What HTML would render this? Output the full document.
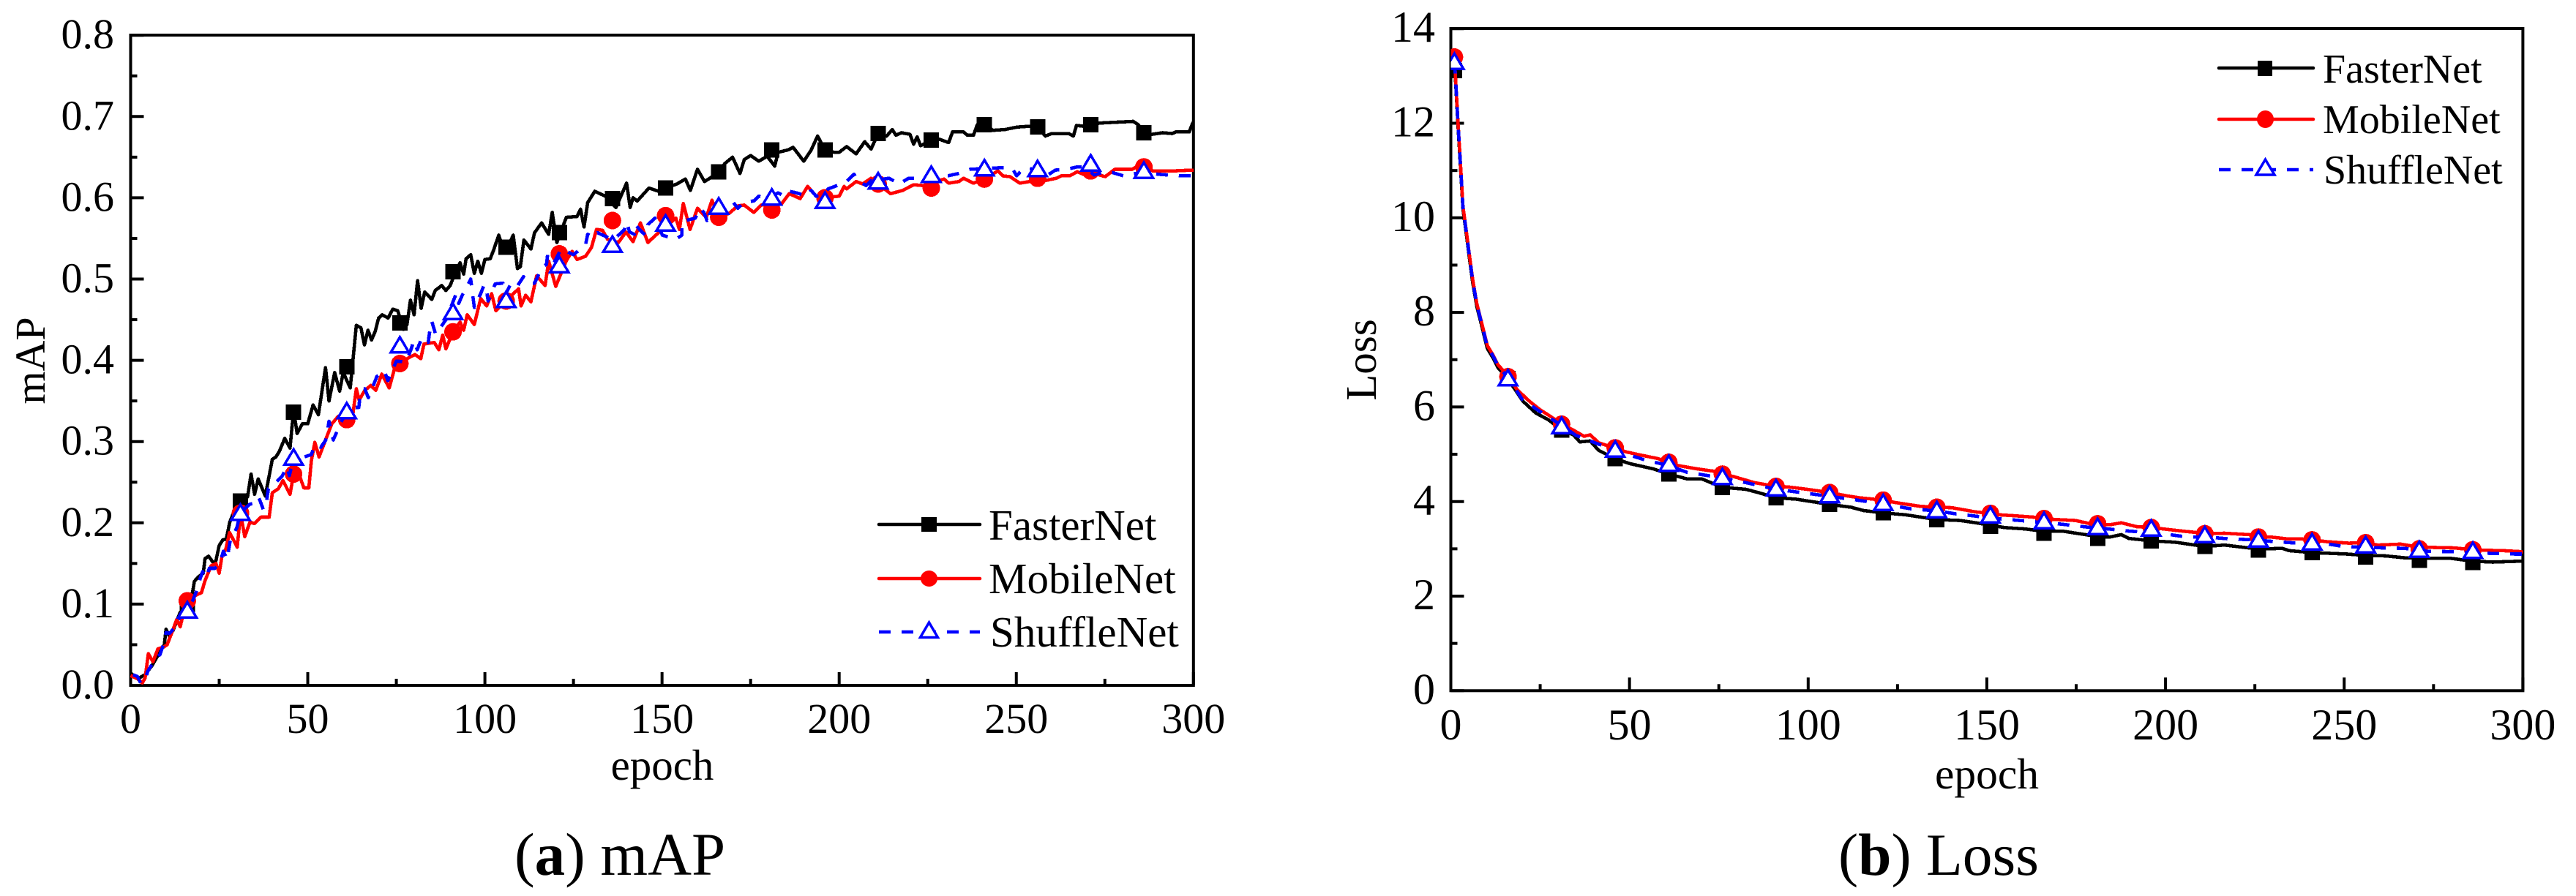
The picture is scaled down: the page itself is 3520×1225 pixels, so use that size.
<!DOCTYPE html>
<html lang="en">
<head>
<meta charset="utf-8">
<title>mAP and Loss training curves</title>
<style>
html,body{margin:0;padding:0;background:#fff;}
svg{display:block;font-family:"Liberation Serif",serif;fill:#000;}
</style>
</head>
<body>
<svg id="figure" xmlns="http://www.w3.org/2000/svg" width="3520" height="1225" viewBox="0 0 3520 1225">
  <rect x="0" y="0" width="3520" height="1225" fill="#fff"/>
  <defs>
    <clipPath id="clip-loss"><rect x="1982.5" y="39" width="1465" height="906"/></clipPath>
  </defs>
  <g id="panel-map">
    <rect x="178.5" y="48" width="1452.3" height="889" fill="none" stroke="#000" stroke-width="4"/>
    <g id="map-ticks"></g>
    <g id="map-series" shape-rendering="crispEdges"></g>
    <text x="905" y="1066" font-size="59" text-anchor="middle">epoch</text>
    <text transform="translate(61 493) rotate(-90)" font-size="58" text-anchor="middle">mAP</text>
    <g>
      <line x1="1201" y1="717" x2="1339" y2="717" stroke="#000" stroke-width="4.5" stroke-linecap="round"/>
      <rect x="1259" y="707" width="21" height="20" fill="#000"/>
      <text x="1351" y="738" font-size="59">FasterNet</text>
      <line x1="1201" y1="791" x2="1339" y2="791" stroke="#f00" stroke-width="4.5" stroke-linecap="round"/>
      <ellipse cx="1269.5" cy="791" rx="11.5" ry="11" fill="#f00"/>
      <text x="1351" y="811" font-size="59">MobileNet</text>
      <line x1="1201" y1="864" x2="1339" y2="864" stroke="#00f" stroke-width="4.5" stroke-dasharray="16 15"/>
      <polygon points="1269.5,851 1257.5,871.5 1281.5,871.5" fill="#fff" stroke="#00f" stroke-width="3.5"/>
      <text x="1353" y="884" font-size="59">ShuffleNet</text>
    </g>
    <text x="703" y="1196" font-size="83">(<tspan font-weight="bold">a</tspan>) mAP</text>
  </g>
  <g id="panel-loss">
    <rect x="1982.5" y="39" width="1464.9" height="905.3" fill="none" stroke="#000" stroke-width="4"/>
    <g id="loss-ticks"></g>
    <g id="loss-series" clip-path="url(#clip-loss)" shape-rendering="crispEdges"></g>
    <text x="2715" y="1078" font-size="59.5" text-anchor="middle">epoch</text>
    <text transform="translate(1880 492) rotate(-90)" font-size="59" text-anchor="middle">Loss</text>
    <g>
      <line x1="3032" y1="93" x2="3161" y2="93" stroke="#000" stroke-width="4.5" stroke-linecap="round"/>
      <rect x="3085" y="83" width="20" height="21" fill="#000"/>
      <text x="3174" y="113" font-size="56">FasterNet</text>
      <line x1="3032" y1="163" x2="3161" y2="163" stroke="#f00" stroke-width="4.5" stroke-linecap="round"/>
      <ellipse cx="3095.5" cy="163" rx="11.5" ry="12" fill="#f00"/>
      <text x="3174" y="182" font-size="56">MobileNet</text>
      <line x1="3032" y1="232" x2="3161" y2="232" stroke="#00f" stroke-width="4.5" stroke-dasharray="16 15"/>
      <polygon points="3095.5,218 3083,239 3108,239" fill="#fff" stroke="#00f" stroke-width="3.5"/>
      <text x="3175" y="251" font-size="56">ShuffleNet</text>
    </g>
    <text x="2512" y="1196" font-size="81.5">(<tspan font-weight="bold">b</tspan>) Loss</text>
  </g>
</svg>
<script>
// ---- shared axis data ----
const xMajorTicks = [0, 50, 100, 150, 200, 250, 300];
const xMinorTicks = [25, 75, 125, 175, 225, 275];
const xTickLabels = ['0', '50', '100', '150', '200', '250', '300'];

// ---- mAP panel ----
const mapYMajorTicks = [0, 0.1, 0.2, 0.3, 0.4, 0.5, 0.6, 0.7, 0.8];
const mapYMinorTicks = [0.05, 0.15, 0.25, 0.35, 0.45, 0.55, 0.65, 0.75];
const mapYTickLabels = ['0.0', '0.1', '0.2', '0.3', '0.4', '0.5', '0.6', '0.7', '0.8'];
const mapMarkerEpochs = [16, 31, 46, 61, 76, 91, 106, 121, 136, 151, 166, 181, 196, 211, 226, 241, 256, 271, 286];

const mapFasterEpochs = [0,2,4,6,8,9.5,10,11,12,14,16,17.5,18,19,20.5,21,22,23.5,24,25,26,27,28,29,31,33,34,35,36,38,40,41,42,43.5,45,46,47,48.5,50,51.5,53,55,56,57.6,59,60,62,63.7,65,66,67,68,69,70,71,72.7,74,75.4,77,78,79,80,81,82,83,85,86,87.8,89,90.2,91,93,94,94.7,96,97,98,99,100,101.5,102.5,103.9,105,106.5,108,109.2,110,111,113,114,116,118,119,120.3,123,126,127,128,129,131,134,137,140,141,141.8,143,146.3,149,151,154.2,156.6,158,160,162,164.2,166,167.7,169.9,172,173.2,175,177.3,179.7,181.8,182.8,185.6,187,190,192,193.9,196,198.6,200,202.1,204.8,207.2,209,211,213.4,215,216,217.6,220,221,222,223,226,228.3,230.9,232,235.1,236.2,237.9,239,241,243.4,246.8,250.3,253.7,256,258.2,260,264.8,266.1,267,268.9,271,273.7,278.2,283,284.4,286,288.2,291.3,294,295,298.8,299.7,300];
const mapFasterValues = [.015,.008,.013,.024,.039,.05,.069,.06,.068,.09,.099,.115,.128,.133,.138,.156,.159,.15,.152,.172,.179,.18,.201,.212,.227,.232,.26,.235,.254,.233,.278,.281,.288,.304,.292,.339,.31,.322,.322,.345,.333,.391,.35,.385,.362,.385,.366,.443,.44,.419,.437,.425,.435,.452,.456,.452,.463,.461,.438,.444,.474,.456,.498,.464,.484,.475,.486,.492,.486,.492,.501,.52,.506,.525,.53,.507,.522,.507,.524,.525,.536,.554,.54,.54,.554,.513,.515,.548,.537,.557,.569,.555,.582,.545,.576,.577,.586,.564,.594,.608,.602,.588,.618,.588,.6,.596,.612,.608,.612,.617,.623,.609,.635,.62,.626,.632,.642,.65,.63,.647,.652,.645,.651,.639,.656,.659,.662,.645,.658,.676,.659,.656,.656,.663,.654,.669,.66,.679,.676,.684,.677,.68,.678,.666,.675,.664,.671,.672,.668,.681,.681,.677,.677,.69,.69,.683,.684,.687,.688,.687,.676,.679,.679,.676,.689,.688,.69,.692,.693,.694,.69,.68,.678,.68,.679,.681,.681,.691,.693];
const mapFasterMarkers = [.099,.227,.336,.392,.446,.509,.539,.557,.599,.612,.632,.659,.659,.679,.671,.69,.687,.69,.68];

const mapMobileEpochs = [0,1,2,3.3,4.1,5,6.3,7.7,9.3,10.3,12,13,14,14.8,16,18,20,21,22.7,24.1,25,25.8,26.9,27.9,29.3,30.1,31,32.2,33.7,34.9,36.8,39.1,40,41.7,43,45,46,47.2,48.9,50.3,51,52,53.2,55.1,56.8,58.6,60,61,62.3,63.7,64.5,66.1,67.8,69.2,70.9,73,74.7,76,78.8,80.3,81.9,82.8,85.7,87,88.1,89,91,93,94,95,97,98.8,100.5,101.9,103.1,105.9,109.5,110.2,111.5,113,114.6,117,118,120,122.9,124.6,126,128.4,130.1,131.5,133.2,134.6,137.7,139.8,141.8,143.9,146,149,153.9,154.9,156,157.9,160,162.5,164.1,166,169,171.4,173.2,175.9,178,183.8,185.9,189,191.1,193.5,196,200,201.4,202.1,204.8,206.6,209,211,214.5,217.9,221,223.8,229.6,230.9,233.8,235.1,237.9,241,244.8,246.2,248.2,251,253.7,257.9,261.3,262.7,265.1,267.2,268.9,271,275.1,277.8,282.7,285.4,288.5,294.4,299.5,300];
const mapMobileValues = [.012,.01,.008,.003,.009,.039,.029,.045,.047,.05,.069,.081,.072,.087,.104,.11,.114,.129,.147,.15,.138,.159,.168,.188,.177,.17,.212,.183,.201,.199,.207,.207,.237,.242,.252,.235,.26,.264,.243,.243,.276,.299,.281,.303,.322,.331,.322,.327,.32,.365,.351,.363,.369,.363,.383,.366,.393,.396,.404,.407,.402,.42,.422,.413,.431,.414,.435,.447,.437,.456,.444,.476,.467,.482,.461,.473,.488,.467,.48,.472,.504,.492,.522,.491,.522,.534,.524,.528,.539,.561,.56,.549,.545,.558,.546,.569,.545,.557,.575,.561,.593,.561,.587,.576,.597,.576,.581,.59,.591,.582,.591,.593,.605,.599,.614,.602,.6,.602,.614,.611,.62,.617,.624,.617,.605,.609,.616,.615,.623,.618,.62,.624,.618,.623,.633,.627,.626,.618,.62,.621,.624,.627,.627,.632,.629,.631,.626,.635,.635,.642,.633,.633,.634,.634];
const mapMobileMarkers = [.104,.212,.26,.327,.396,.435,.473,.531,.572,.578,.576,.585,.6,.617,.612,.623,.624,.633,.638];

const mapShuffleEpochs = [0.7,1.9,2.8,4,4.8,6.5,8.3,9.3,10,11,12.4,13.4,16,17.6,18.6,19.6,20.3,21.3,22.2,23.8,25.1,26.2,27.2,28.2,30,31,33.7,35.5,36.2,37.5,38.4,38.9,40.6,42.7,44.1,44.8,46,48.2,49,51,52,53.7,55.1,56,57.2,59,61,62.3,64.4,64.7,66.1,67.1,68.5,69.5,71.6,72.6,73.7,75,77.8,79.2,79.9,80.9,81.4,82.3,84,84.5,85,86.1,87.4,89,91.9,92.6,93.6,94.7,96,96.4,97,98.8,99.8,100.5,100.9,101.9,102.9,105.1,105.7,107.4,109.1,110.9,112.2,114,115,116,117.4,117.7,119.5,121.5,125,128.4,129,130.8,131.8,134.3,136,138,139.4,140.1,140.8,142.2,142.5,143.6,145.3,146,148,150.1,153.9,155.6,155.6,156.6,159.4,160.8,161.8,162.7,165,168,170,171.4,173.2,175.9,177.3,180,182.8,184.5,185.9,188,190.7,192.1,193.5,195.5,196.9,200,202.1,204.2,205.4,207.6,209,214.1,216.9,219.6,223.4,228.6,230.7,233.8,236.9,241,245.8,248.9,250.1,252,256,258.2,261,264.1,267.2,269.2,272,274.7,277.2,280.2,283.7,286,289.9,293,296.4,299.5,300];
const mapShuffleValues = [.013,.011,.003,.005,.017,.029,.038,.051,.065,.064,.071,.081,.093,.105,.116,.131,.14,.132,.144,.144,.15,.165,.155,.18,.194,.213,.223,.224,.231,.216,.228,.242,.248,.257,.269,.258,.281,.27,.281,.284,.296,.293,.302,.325,.302,.32,.338,.342,.342,.354,.365,.354,.369,.38,.387,.375,.386,.399,.398,.414,.424,.413,.419,.428,.422,.438,.448,.432,.44,.45,.482,.47,.48,.488,.5,.486,.465,.482,.493,.485,.473,.483,.494,.495,.48,.495,.491,.503,.495,.495,.504,.514,.518,.53,.52,.537,.53,.542,.555,.551,.557,.552,.548,.555,.561,.57,.558,.555,.567,.561,.554,.567,.575,.554,.549,.554,.569,.572,.575,.587,.582,.572,.585,.593,.595,.587,.595,.596,.602,.6,.606,.602,.608,.606,.602,.609,.602,.603,.611,.616,.62,.629,.621,.615,.621,.624,.617,.624,.624,.627,.627,.63,.635,.636,.637,.636,.627,.636,.635,.626,.634,.635,.638,.638,.628,.632,.631,.627,.63,.632,.629,.628,.627,.627,.627];
const mapShuffleMarkers = [.093,.213,.281,.338,.419,.46,.475,.518,.543,.569,.59,.601,.597,.621,.629,.637,.636,.643,.634];

// ---- Loss panel ----
const lossYMajorTicks = [0, 2, 4, 6, 8, 10, 12, 14];
const lossYMinorTicks = [1, 3, 5, 7, 9, 11, 13];
const lossYTickLabels = ['0', '2', '4', '6', '8', '10', '12', '14'];
const lossMarkerEpochs = [1, 16, 31, 46, 61, 76, 91, 106, 121, 136, 151, 166, 181, 196, 211, 226, 241, 256, 271, 286];

const lossFasterEpochs = [1,1.2,2,2.6,3.4,4.4,5.2,6.1,7.3,8.5,10.2,11.8,13.2,16,20.2,23.8,27.3,31,34.3,36.1,39,41.4,46,50.2,56.7,61,66.1,70.2,76,82.5,86,91,96.7,106,112,115.5,121,127.2,136,142.5,147,151,155,160.8,166,171.5,181,184.4,187.6,189.7,196,202.6,211,216.5,226,232.6,234.7,241,250.8,256,261.5,266.9,271,279.7,286,291.5,299.5,300];
const lossFasterValues = [13.15,13.05,11.95,11.2,10.18,9.62,9.15,8.64,8.12,7.76,7.24,7.04,6.83,6.59,6.12,5.87,5.73,5.51,5.41,5.26,5.28,5.08,4.906,4.8,4.69,4.58,4.48,4.48,4.3,4.26,4.19,4.08,4.05,3.94,3.88,3.81,3.76,3.72,3.62,3.6,3.55,3.5,3.45,3.42,3.37,3.37,3.26,3.25,3.3,3.22,3.17,3.14,3.05,3.08,2.995,3.01,2.96,2.92,2.89,2.86,2.85,2.81,2.8,2.8,2.74,2.72,2.74,2.73];
const lossFasterMarkers = [13.11,6.6,5.51,4.906,4.58,4.3,4.08,3.94,3.76,3.62,3.475,3.33,3.225,3.17,3.05,2.975,2.92,2.83,2.76,2.71];

const lossMobileEpochs = [1,1.2,2,2.6,3.4,4.4,5.2,6.1,7.3,8.5,10.2,11.8,13.2,16,18.5,22,25,27.9,31,34.3,37.3,39,41.4,46,49,53.2,57.9,61,63.7,69,73.7,76,79,84.9,91,94.3,99.6,106,110.8,114.3,121,124.3,131.3,136,140.2,146.9,151,153.3,157.6,163,166,169.4,174.8,179,184.4,187.6,191.9,196,199.4,205.3,208,211,216.5,223.5,226,229.4,234.2,238,241,245.4,251.3,256,259.4,265.8,269,274.4,280.8,286,289.4,294.7,299.5,300];
const lossMobileValues = [13.42,13.11,12.02,11.27,10.24,9.68,9.21,8.7,8.18,7.82,7.3,7.1,6.89,6.66,6.37,6.12,5.94,5.8,5.635,5.51,5.38,5.41,5.24,5.13,5.05,4.98,4.91,4.83,4.76,4.69,4.64,4.58,4.53,4.4,4.32,4.31,4.26,4.19,4.12,4.08,4.03,3.98,3.9,3.88,3.87,3.78,3.75,3.72,3.7,3.67,3.64,3.62,3.6,3.53,3.51,3.55,3.47,3.45,3.42,3.37,3.35,3.32,3.33,3.3,3.25,3.25,3.21,3.21,3.19,3.15,3.12,3.13,3.08,3.1,3.06,3.03,3.02,2.98,2.97,2.96,2.94,2.93];
const lossMobileMarkers = [13.4,6.64,5.635,5.135,4.83,4.58,4.32,4.19,4.03,3.88,3.75,3.64,3.53,3.45,3.32,3.25,3.19,3.13,3.0,2.98];

const lossShuffleEpochs = [1,1.2,2,2.6,3.4,4.4,5.2,6.1,7.3,8.5,10.2,11.8,13.2,16,20,25,31,35,38,46,54.3,61,66,76,82.5,91,100,106,112,121,128.4,136,141.3,147,151,159.2,171,178,184,189,199.4,206,213,218,225,231,237,244,249.7,261,267,273,280,292,298,300];
const lossShuffleValues = [13.3,13.09,12,11.25,10.22,9.66,9.19,8.68,8.16,7.8,7.28,7.08,6.87,6.62,6.16,5.9,5.61,5.4,5.31,5.08,4.88,4.76,4.62,4.5,4.4,4.26,4.17,4.11,4.05,3.95,3.85,3.8,3.74,3.69,3.65,3.6,3.52,3.46,3.42,3.38,3.32,3.25,3.24,3.21,3.19,3.15,3.12,3.12,3.05,3.02,3.01,2.95,2.94,2.9,2.89,2.89];
const lossShuffleMarkers = [13.31,6.62,5.61,5.11,4.81,4.53,4.29,4.15,3.98,3.83,3.72,3.6,3.475,3.44,3.3,3.21,3.15,3.09,2.99,2.97];

// ---- axis functions ----
function mapX(epoch) { return 178.5 + epoch * (1630.8 - 178.5) / 300; }
function mapY(value) { return 937 - value * 1111; }
function lossX(epoch) { return 1982.5 + epoch * (3447.4 - 1982.5) / 300; }
function lossY(value) { return 944.3 - value * 64.65; }

const SVG_NS = 'http://www.w3.org/2000/svg';
function make(tag, parent) {
  const el = document.createElementNS(SVG_NS, tag);
  parent.appendChild(el);
  return el;
}

function drawTicks(group, xFn, yFn, opts) {
  const x0 = xFn(0);
  const y0 = yFn(0);
  xMajorTicks.forEach(function (t, i) {
    const tick = make('line', group);
    
    
    tick.setAttribute('x1', xFn(t));
    tick.setAttribute('x2', xFn(t));
    tick.setAttribute('y1', y0);
    tick.setAttribute('y2', y0 - 18);
    tick.setAttribute('stroke', '#000');
    tick.setAttribute('stroke-width', '4');
    const label = make('text', group);
    
    
    label.setAttribute('x', xFn(t));
    label.setAttribute('y', opts.xLabelY);
    label.setAttribute('font-size', opts.fontSize);
    label.setAttribute('text-anchor', 'middle');
    label.textContent = xTickLabels[i];
  });
  xMinorTicks.forEach(function (t) {
    const tick = make('line', group);
    
    
    tick.setAttribute('x1', xFn(t));
    tick.setAttribute('x2', xFn(t));
    tick.setAttribute('y1', y0);
    tick.setAttribute('y2', y0 - 9);
    tick.setAttribute('stroke', '#000');
    tick.setAttribute('stroke-width', '4');
  });
  opts.yMajor.forEach(function (t, i) {
    const tick = make('line', group);
    
    
    tick.setAttribute('x1', x0);
    tick.setAttribute('x2', x0 + 18);
    tick.setAttribute('y1', yFn(t));
    tick.setAttribute('y2', yFn(t));
    tick.setAttribute('stroke', '#000');
    tick.setAttribute('stroke-width', '4');
    const label = make('text', group);
    
    
    label.setAttribute('x', opts.yLabelX);
    label.setAttribute('y', yFn(t) + 18);
    label.setAttribute('font-size', opts.fontSize);
    label.setAttribute('text-anchor', 'end');
    label.textContent = opts.yLabels[i];
  });
  opts.yMinor.forEach(function (t) {
    const tick = make('line', group);
    
    
    tick.setAttribute('x1', x0);
    tick.setAttribute('x2', x0 + 9);
    tick.setAttribute('y1', yFn(t));
    tick.setAttribute('y2', yFn(t));
    tick.setAttribute('stroke', '#000');
    tick.setAttribute('stroke-width', '4');
  });
}

function drawLine(group, xFn, yFn, epochs, values, color, dashed, name) {
  const d = epochs.map(function (e, i) {
    return (i ? 'L' : 'M') + xFn(e).toFixed(1) + ' ' + yFn(values[i]).toFixed(1);
  }).join('');
  const path = make('path', group);
  
  
  path.setAttribute('d', d);
  path.setAttribute('fill', 'none');
  path.setAttribute('stroke', color);
  path.setAttribute('stroke-width', '4.6');
  path.setAttribute('stroke-linejoin', 'round');
  if (dashed) path.setAttribute('stroke-dasharray', '16 15');
}

function drawSquares(group, xFn, yFn, epochs, values) {
  epochs.forEach(function (e, i) {
    const m = make('rect', group);
    
    
    m.setAttribute('x', xFn(e) - 10.5);
    m.setAttribute('y', yFn(values[i]) - 10.5);
    m.setAttribute('width', 21);
    m.setAttribute('height', 21);
    m.setAttribute('fill', '#000');
  });
}

function drawCircles(group, xFn, yFn, epochs, values) {
  epochs.forEach(function (e, i) {
    const m = make('circle', group);
    
    
    m.setAttribute('cx', xFn(e));
    m.setAttribute('cy', yFn(values[i]));
    m.setAttribute('r', 12);
    m.setAttribute('fill', '#f00');
  });
}

function drawTriangles(group, xFn, yFn, epochs, values) {
  epochs.forEach(function (e, i) {
    const cx = xFn(e);
    const cy = yFn(values[i]);
    const m = make('polygon', group);
    
    
    m.setAttribute('points', cx + ',' + (cy - 10.5) + ' ' + (cx - 12.5) + ',' + (cy + 10.5) + ' ' + (cx + 12.5) + ',' + (cy + 10.5));
    m.setAttribute('fill', '#fff');
    m.setAttribute('stroke', '#00f');
    m.setAttribute('stroke-width', '3.5');
  });
}

drawTicks(document.getElementById('map-ticks'), mapX, mapY, {
  xLabelY: 1002, yLabelX: 156, fontSize: 58,
  yMajor: mapYMajorTicks, yMinor: mapYMinorTicks, yLabels: mapYTickLabels
});
drawTicks(document.getElementById('loss-ticks'), lossX, lossY, {
  xLabelY: 1011, yLabelX: 1961, fontSize: 60,
  yMajor: lossYMajorTicks, yMinor: lossYMinorTicks, yLabels: lossYTickLabels
});

const mapGroup = document.getElementById('map-series');
drawLine(mapGroup, mapX, mapY, mapFasterEpochs, mapFasterValues, '#000', false, 'fasternet-map-line');
drawSquares(mapGroup, mapX, mapY, mapMarkerEpochs, mapFasterMarkers);
drawLine(mapGroup, mapX, mapY, mapMobileEpochs, mapMobileValues, '#f00', false, 'mobilenet-map-line');
drawCircles(mapGroup, mapX, mapY, mapMarkerEpochs, mapMobileMarkers);
drawLine(mapGroup, mapX, mapY, mapShuffleEpochs, mapShuffleValues, '#00f', true, 'shufflenet-map-line');
drawTriangles(mapGroup, mapX, mapY, mapMarkerEpochs, mapShuffleMarkers);

const lossGroup = document.getElementById('loss-series');
drawLine(lossGroup, lossX, lossY, lossFasterEpochs, lossFasterValues, '#000', false, 'fasternet-loss-line');
drawSquares(lossGroup, lossX, lossY, lossMarkerEpochs, lossFasterMarkers);
drawLine(lossGroup, lossX, lossY, lossMobileEpochs, lossMobileValues, '#f00', false, 'mobilenet-loss-line');
drawCircles(lossGroup, lossX, lossY, lossMarkerEpochs, lossMobileMarkers);
drawLine(lossGroup, lossX, lossY, lossShuffleEpochs, lossShuffleValues, '#00f', true, 'shufflenet-loss-line');
drawTriangles(lossGroup, lossX, lossY, lossMarkerEpochs, lossShuffleMarkers);
</script>
</body>
</html>
